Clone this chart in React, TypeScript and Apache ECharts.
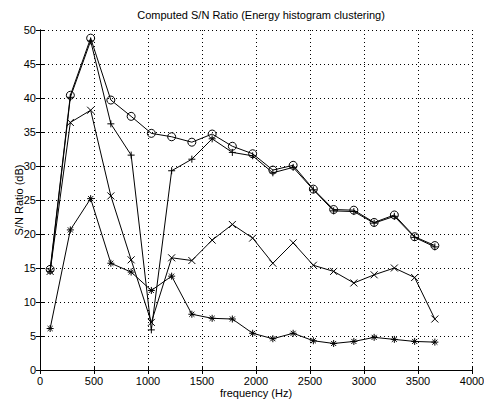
import React, { useEffect, useRef } from "react";
import * as echarts from "echarts";

const freqs = [94, 281, 469, 656, 844, 1031, 1219, 1406, 1594, 1781, 1969, 2156, 2344, 2531, 2719, 2906, 3094, 3281, 3469, 3656];
const circleVals = [14.8, 40.4, 48.8, 39.7, 37.3, 34.8, 34.3, 33.5, 34.7, 32.9, 31.8, 29.4, 30.1, 26.6, 23.6, 23.5, 21.7, 22.8, 19.6, 18.3];
const plusVals = [14.5, 40.1, 48.4, 36.2, 31.6, 5.9, 29.3, 31.0, 34.0, 32.0, 31.5, 29.0, 29.8, 26.5, 23.4, 23.3, 21.6, 22.6, 19.5, 18.1];
const crossVals = [14.5, 36.4, 38.2, 25.6, 16.2, 7.0, 16.5, 16.1, 19.1, 21.4, 19.4, 15.7, 18.7, 15.4, 14.5, 12.8, 14.0, 15.0, 13.6, 7.5];
const starVals = [6.1, 20.6, 25.2, 15.7, 14.4, 11.7, 13.8, 8.2, 7.6, 7.5, 5.4, 4.6, 5.4, 4.3, 3.9, 4.2, 4.8, 4.5, 4.2, 4.1];

const FONT = "Liberation Sans, Arial, Helvetica, sans-serif";

const PLUS = "path://M0,-1L0,1M-1,0L1,0";
const CROSS = "path://M-1,-1L1,1M-1,1L1,-1";
const STAR = "path://M0,-1L0,1M-1,0L1,0M-0.72,-0.72L0.72,0.72M-0.72,0.72L0.72,-0.72";

function pairs(vals: number[]) {
  return freqs.map((f, i) => [f, vals[i]]);
}

export default function App() {
  const ref = useRef<HTMLDivElement>(null);
  useEffect(() => {
    if (!ref.current) return;
    const chart = echarts.init(ref.current, undefined, { renderer: "svg" });
    const axisLine = { show: true, lineStyle: { color: "#000", width: 1 } };
    const tick = { show: true, inside: true, length: 4, lineStyle: { color: "#000" } };
    const grid = { show: true, lineStyle: { color: "#000", type: [1, 3], width: 1 } };
    const label = { color: "#000", fontSize: 11, fontFamily: FONT, formatter: (v: number) => String(v) };
    const mkSeries = (vals: number[], symbol: string, size: number) => ({
      type: "line",
      data: pairs(vals),
      symbol,
      symbolSize: size,
      showAllSymbol: true,
      lineStyle: { color: "#000", width: 1 },
      itemStyle: { color: "none", borderColor: "#000", borderWidth: 1 },
      emphasis: { disabled: true },
      z: 3,
    });
    chart.setOption({
      animation: false,
      backgroundColor: "#fff",
      title: {
        text: "Computed S/N Ratio (Energy histogram clustering)",
        left: 256,
        textAlign: "center",
        top: 4,
        textStyle: { fontSize: 11, fontWeight: "normal", color: "#000", fontFamily: FONT },
      },
      grid: { left: 40, right: 12, top: 30, bottom: 29, containLabel: false, outerBoundsMode: "none" },
      xAxis: [
        {
          type: "value",
          min: 0,
          max: 4000,
          interval: 500,
          position: "bottom",
          name: "frequency (Hz)",
          nameLocation: "middle",
          nameGap: 17,
          nameMoveOverlap: false,
          nameTextStyle: { fontSize: 11, color: "#000", fontFamily: FONT },
          axisLine,
          axisTick: tick,
          axisLabel: { ...label, margin: 5 },
          splitLine: grid,
        },
        {
          type: "value",
          min: 0,
          max: 4000,
          interval: 500,
          position: "top",
          axisLine,
          axisTick: tick,
          axisLabel: { show: false },
          splitLine: { show: false },
        },
      ],
      yAxis: [
        {
          type: "value",
          min: 0,
          max: 50,
          interval: 5,
          position: "left",
          name: "S/N Ratio (dB)",
          nameLocation: "middle",
          nameGap: 16,
          nameMoveOverlap: false,
          nameTextStyle: { fontSize: 11, color: "#000", fontFamily: FONT },
          axisLine,
          axisTick: tick,
          axisLabel: { ...label, margin: 4 },
          splitLine: grid,
        },
        {
          type: "value",
          min: 0,
          max: 50,
          interval: 5,
          position: "right",
          axisLine,
          axisTick: tick,
          axisLabel: { show: false },
          splitLine: { show: false },
        },
      ],
      series: [
        mkSeries(starVals, STAR, 7),
        mkSeries(crossVals, CROSS, 7),
        mkSeries(plusVals, PLUS, 7),
        mkSeries(circleVals, "circle", 8),
      ],
    });
    return () => chart.dispose();
  }, []);
  return <div ref={ref} style={{ width: 484, height: 399, position: "absolute", left: 0, top: 0 }} />;
}
